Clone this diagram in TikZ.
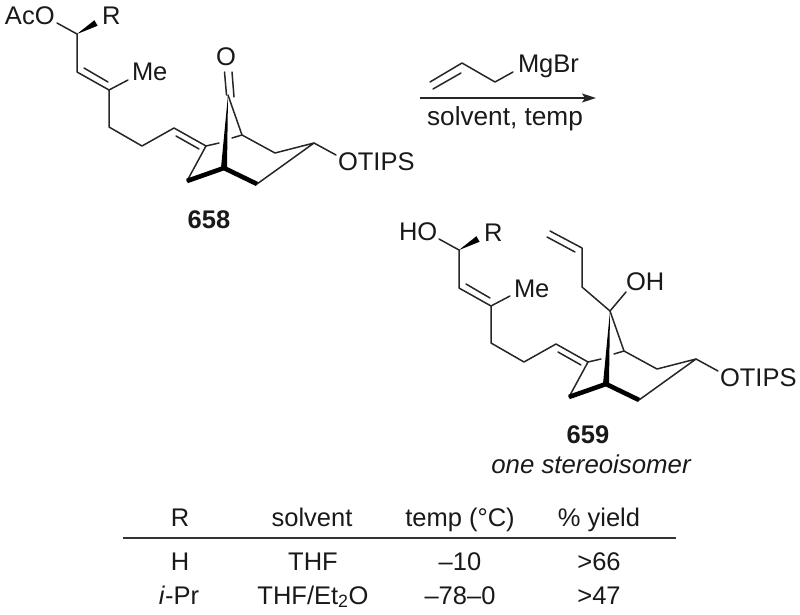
\documentclass[tikz,border=0pt]{standalone}
\usepackage{fontspec}
\setmainfont{Liberation Sans}
\usetikzlibrary{calc,arrows.meta}
\tikzset{
  bond/.style={line width=1.5pt,line cap=round,line join=round,black!85},
  boldbond/.style={line width=4.6pt,line join=round,black},
  chem/.style={inner sep=0pt,outer sep=0pt,font=\fontsize{25.5}{28}\selectfont,text=black!90},
  lbl/.style={chem,anchor=base west},
  ctr/.style={chem,anchor=base},
  cmpd/.style={chem,anchor=base,font=\fontsize{25.5}{28}\selectfont\bfseries},
  rulerline/.style={line width=1.5pt,black!80},
  rxn/.style={line width=1.5pt,black!85,-{Stealth[length=14pt,width=9pt,inset=3pt]}}
}
\newcommand{\wedgebond}[3]{\fill[black] (#1) -- ($(#2)!#3!90:(#1)$) -- ($(#2)!#3!-90:(#1)$) -- cycle;}
\newcommand{\skeleton}{%
  \coordinate (c1) at (77,34);
  \coordinate (oe) at (57,23);
  \coordinate (re) at (96,23);
  \coordinate (c2) at (77,72);
  \coordinate (c3) at (109,90);
  \coordinate (i2) at (84,68);
  \coordinate (i3) at (108,82);
  \coordinate (me) at (128,80);
  \coordinate (c4) at (109,127);
  \coordinate (c5) at (142,146);
  \coordinate (c6) at (174,128);
  \coordinate (c7) at (206,146);
  \coordinate (i6) at (176,136);
  \coordinate (i7) at (199,149);
  \coordinate (g1) at (219,143);
  \coordinate (g2) at (232,138);
  \coordinate (c8) at (242,135);
  \coordinate (c9) at (187,181);
  \coordinate (hd) at (224,168);
  \coordinate (ca) at (257,184);
  \coordinate (cb) at (314,143);
  \coordinate (cc) at (275,153);
  \coordinate (ot) at (336,155);
  \coordinate (tp) at (228,95);
  \draw[bond] (oe) -- (c1) -- (c2) -- (c3) -- (c4) -- (c5) -- (c6) -- (c7) -- (c9);
  \draw[bond] (i2) -- (i3);
  \draw[bond] (i6) -- (i7);
  \draw[bond] (c3) -- (me);
  \draw[bond] (c7) -- (g1);
  \draw[bond] (g2) -- (c8) -- (cc) -- (cb) -- (ca);
  \draw[bond] (cb) -- (ot);
  \draw[bond] (c8) -- (tp);
  \draw[boldbond] (c9) -- (hd) -- (ca);
  \wedgebond{tp}{hd}{3pt}
  \wedgebond{c1}{re}{3.2pt}
  \node[lbl] (rl) at (102,25) {R};
  \node[lbl] (mel) at (132,81) {Me};
  \node[lbl] (otl) at (338,170) {OTIPS};
}
\begin{document}
\begin{tikzpicture}[x=1pt,y=-1pt]
\useasboundingbox (0,0) rectangle (800,615);
% substrate
\begin{scope}[name prefix=a-]
  \skeleton
  \coordinate (ol) at (224.5,72);
  \coordinate (olb) at (226.5,95);
  \coordinate (or) at (232,72);
  \coordinate (orb) at (234,97);
  \draw[bond] (ol) -- (olb);
  \draw[bond] (or) -- (orb);
  \node[lbl] (aco) at (5,25) {AcO};
  \node[ctr] (oxo) at (226,66) {O};
\end{scope}
\node[cmpd] (n658) at (209,228) {658};
% reagent
\coordinate (r1) at (430,82);
\coordinate (r2) at (462,63);
\coordinate (r3) at (495,82);
\coordinate (r4) at (513,72);
\coordinate (r5) at (433,89);
\coordinate (r6) at (461,73);
\draw[bond] (r1) -- (r2) -- (r3) -- (r4);
\draw[bond] (r5) -- (r6);
\node[lbl] (mg) at (518,73) {MgBr};
\coordinate (al) at (420,98);
\coordinate (ar) at (596,98);
\draw[rxn] (al) -- (ar);
\node[ctr,font=\fontsize{26.2}{28}\selectfont] (cond) at (505,125) {solvent, temp};
% product
\begin{scope}[shift={(382,216)},name prefix=p-]
  \skeleton
  \coordinate (al1) at (200,32);
  \coordinate (al2) at (200,71);
  \coordinate (al3) at (168,15);
  \coordinate (al4) at (165,21);
  \coordinate (al5) at (193,36);
  \coordinate (ohe) at (244,76);
  \draw[bond] (tp) -- (al2) -- (al1) -- (al3);
  \draw[bond] (al4) -- (al5);
  \draw[bond] (tp) -- (ohe);
  \node[lbl] (ho) at (17,24) {HO};
  \node[lbl] (oh) at (244,74) {OH};
\end{scope}
\node[cmpd] (n659) at (588,443) {659};
\node[ctr,font=\fontsize{25.8}{28}\selectfont\itshape] (one) at (591,473) {one stereoisomer};
% table
\coordinate (tl) at (123,538);
\coordinate (tr) at (676,538);
\draw[rulerline] (tl) -- (tr);
\node[ctr] (h1) at (180,526) {R};
\node[ctr] (h2) at (312,526) {solvent};
\node[ctr] (h3) at (460,526) {temp (°C)};
\node[ctr] (h4) at (599,526) {\% yield};
\node[ctr] (a1) at (180,570) {H};
\node[ctr] (a2) at (313,570) {THF};
\node[ctr] (a3) at (460,570) {–10};
\node[ctr] (a4) at (599,570) {>66};
\node[ctr] (b1) at (179,604) {\textit{i}-Pr};
\node[ctr] (b2) at (313,604) {THF/Et\textsubscript{2}O};
\node[ctr] (b3) at (460,604) {–78–0};
\node[ctr] (b4) at (599,604) {>47};
\end{tikzpicture}
\end{document}
